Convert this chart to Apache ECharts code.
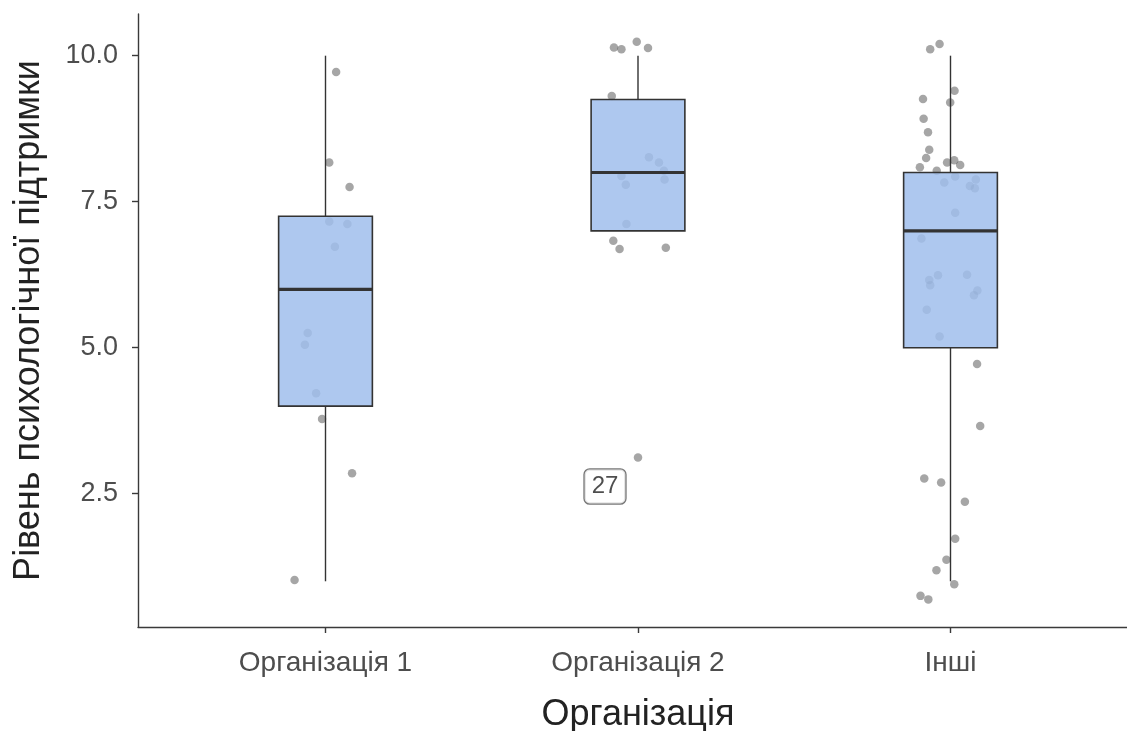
<!DOCTYPE html>
<html>
<head>
<meta charset="utf-8">
<script src="https://cdn.jsdelivr.net/npm/echarts@6/dist/echarts.min.js"></script>
<style>
  html, body { margin: 0; padding: 0; background: #fff; }
  #main { width: 1127px; height: 731px; }
</style>
</head>
<body>
<div id="main"></div>
<script>
// categories on the x axis
const categories = ['Організація 1', 'Організація 2', 'Інші']
// box stats: [position, lower whisker, Q1, median, Q3, upper whisker]
const boxStats = [
  [1, 1.0, 4.0, 6.0, 7.25, 10.0],
  [2, 7.0, 7.0, 8.0, 9.25, 10.0],
  [3, 1.0, 5.0, 7.0, 8.0, 10.0]
]
const yTicks = [2.5, 5.0, 7.5, 10.0]

// jittered points [x, y]
const pointsOrg1 = [
  [1.034, 9.72], [1.012, 8.17], [1.077, 7.75], [1.012, 7.16], [1.070, 7.12],
  [1.030, 6.73], [0.943, 5.25], [0.934, 5.05], [0.970, 4.22], [0.989, 3.78],
  [1.085, 2.85], [0.901, 1.02]
]
const pointsOrg2 = [
  [1.923, 10.14], [1.947, 10.11], [1.996, 10.24], [2.032, 10.13], [1.916, 9.31],
  [2.035, 8.26], [2.067, 8.17], [2.083, 8.03], [2.085, 7.88], [1.947, 7.94],
  [1.961, 7.79], [1.963, 7.12], [1.921, 6.83], [1.941, 6.69], [2.089, 6.71]
]
const outlierOrg2 = [[2.0, 3.12]]
const outlierLabel = '27'
const pointsOther = [
  [2.935, 10.11], [2.965, 10.20], [3.013, 9.40], [2.999, 9.20], [2.912, 9.26],
  [2.914, 8.92], [2.928, 8.69], [2.932, 8.39], [2.922, 8.25], [2.902, 8.09],
  [2.956, 8.03], [2.989, 8.17], [3.012, 8.21], [3.031, 8.13], [2.980, 7.83],
  [3.015, 7.93], [3.062, 7.77], [3.078, 7.73], [3.081, 7.88], [3.015, 7.31],
  [2.907, 6.87], [2.932, 6.16], [2.935, 6.07], [2.960, 6.24], [3.053, 6.25],
  [3.086, 5.98], [3.075, 5.90], [2.924, 5.65], [2.965, 5.19], [3.085, 4.72],
  [3.095, 3.66], [2.916, 2.76], [2.970, 2.69], [3.046, 2.36], [3.015, 1.73],
  [2.987, 1.37], [2.955, 1.19], [3.012, 0.95], [2.904, 0.75], [2.929, 0.69]
]

var myChart = echarts.init(document.getElementById('main'))

const fontFamily = '"Liberation Sans", Arial, sans-serif'
const pointColor = 'rgba(70,70,70,0.6)'

function renderBox(params, api) {
  const x = api.value(0)
  const lo = api.coord([x, api.value(1)])
  const q1 = api.coord([x, api.value(2)])
  const med = api.coord([x, api.value(3)])
  const q3 = api.coord([x, api.value(4)])
  const hi = api.coord([x, api.value(5)])
  const half = api.size([0.3, 0])[0] / 2
  const cx = q1[0]
  const lineStyle = { stroke: '#333', lineWidth: 1.4 }
  return {
    type: 'group',
    children: [
      { type: 'line', shape: { x1: cx, y1: q3[1], x2: cx, y2: hi[1] }, style: lineStyle },
      { type: 'line', shape: { x1: cx, y1: q1[1], x2: cx, y2: lo[1] }, style: lineStyle },
      {
        type: 'rect',
        shape: { x: cx - half, y: q3[1], width: half * 2, height: q1[1] - q3[1] },
        style: { fill: 'rgba(160,190,236,0.85)', stroke: '#333', lineWidth: 1.6 }
      },
      {
        type: 'line',
        shape: { x1: cx - half, y1: med[1], x2: cx + half, y2: med[1] },
        style: { stroke: '#333', lineWidth: 3.2 }
      }
    ]
  }
}

const option = {
  animation: false,
  // panel runs a little past the right edge of the picture, as in the reference
  grid: { left: 138, right: -11, top: 14, bottom: 104, outerBoundsMode: 'none', containLabel: false },
  xAxis: {
    type: 'value',
    min: 0.4,
    max: 3.6,
    name: 'Організація',
    nameLocation: 'middle',
    nameGap: 70,
    nameTextStyle: { fontSize: 36, color: '#222', fontFamily: fontFamily },
    axisLine: { show: true, lineStyle: { color: '#3a3a3a', width: 1.4 } },
    axisTick: { show: true, length: 6, customValues: [1, 2, 3], lineStyle: { color: '#3a3a3a', width: 1.4 } },
    axisLabel: {
      customValues: [1, 2, 3],
      formatter: v => categories[Math.round(v) - 1],
      fontSize: 28,
      color: '#4d4d4d',
      fontFamily: fontFamily,
      margin: 22
    },
    splitLine: { show: false }
  },
  yAxis: {
    type: 'value',
    min: 0.217,
    max: 10.714,
    name: 'Рівень психологічної підтримки',
    nameLocation: 'middle',
    nameGap: 91,
    nameRotate: 90,
    nameTextStyle: { fontSize: 36, color: '#222', fontFamily: fontFamily },
    axisLine: { show: true, lineStyle: { color: '#3a3a3a', width: 1.4 } },
    axisTick: { show: true, length: 6, customValues: yTicks, lineStyle: { color: '#3a3a3a', width: 1.4 } },
    axisLabel: {
      customValues: yTicks,
      formatter: v => v.toFixed(1),
      fontSize: 27,
      color: '#4d4d4d',
      fontFamily: fontFamily,
      margin: 20
    },
    splitLine: { show: false }
  },
  series: [
    {
      type: 'scatter',
      z: 1,
      symbolSize: 8.5,
      itemStyle: { color: pointColor },
      data: pointsOrg1.concat(pointsOrg2, pointsOther)
    },
    {
      type: 'scatter',
      z: 1,
      symbolSize: 8.5,
      itemStyle: { color: pointColor },
      data: outlierOrg2,
      label: {
        show: true,
        formatter: outlierLabel,
        position: 'inside',
        offset: [-33, 29],
        fontSize: 24,
        color: '#222',
        fontFamily: fontFamily,
        backgroundColor: '#fff',
        borderColor: '#555',
        borderWidth: 1.3,
        borderRadius: 5,
        padding: [6, 7, 4, 7]
      }
    },
    {
      type: 'custom',
      z: 2,
      renderItem: renderBox,
      encode: { x: 0, y: [1, 2, 3, 4, 5] },
      data: boxStats
    }
  ]
}

myChart.setOption(option)
</script>
</body>
</html>
